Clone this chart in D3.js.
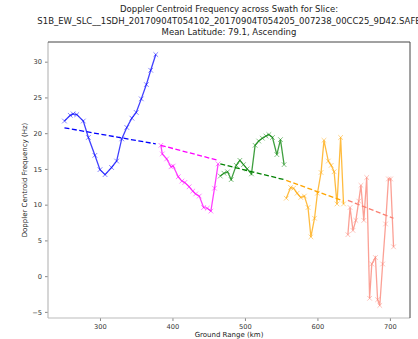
<!DOCTYPE html>
<html>
<head>
<meta charset="utf-8">
<script src="https://cdn.jsdelivr.net/npm/d3@7"></script>
<style>
  body { margin: 0; background: #fff; }
  text { font-family: "DejaVu Sans", sans-serif; fill: #222; }
</style>
</head>
<body>
<div id="chart"></div>
<script>
// ground range (km) and doppler centroid (Hz) for each swath slice
const blueX = [251, 259, 263, 268, 277, 284, 293, 300, 307, 316, 323, 330, 337, 344, 350, 357, 364, 370, 377];
const blueY = [21.7, 22.5, 22.7, 22.6, 21.7, 19.4, 16.9, 14.9, 14.2, 15.2, 16.1, 19.2, 20.8, 22.1, 22.9, 24.8, 26.8, 28.8, 31.0];

const magentaX = [384, 386, 392, 398, 401, 408, 413, 417, 423, 428, 432, 437, 443, 448, 453, 458, 463];
const magentaY = [18.3, 17.1, 16.4, 15.3, 15.4, 13.9, 13.3, 13.1, 12.5, 11.9, 11.5, 11.2, 9.6, 9.5, 9.1, 12.3, 15.7];

const greenX = [466, 471, 476, 481, 488, 493, 498, 503, 509, 514, 519, 524, 529, 533, 538, 544, 549, 554];
const greenY = [14.0, 14.4, 14.6, 13.5, 15.5, 16.2, 15.6, 15.0, 14.3, 18.3, 18.9, 19.3, 19.6, 19.8, 19.4, 17.0, 19.1, 15.6];

const orangeX = [557, 563, 567, 572, 577, 582, 587, 591, 596, 600, 605, 609, 615, 619, 623, 627, 632, 636];
const orangeY = [10.9, 12.4, 12.3, 11.6, 11.0, 11.2, 9.6, 5.5, 8.1, 11.6, 14.5, 19.0, 16.1, 15.5, 14.6, 10.1, 19.4, 10.1];

const salmonX = [642, 645, 649, 653, 657, 660, 664, 668, 672, 675, 680, 683, 686, 690, 694, 698, 701, 705];
const salmonY = [5.8, 9.6, 6.4, 7.8, 10.5, 12.7, 7.8, 13.8, -3.1, 1.7, 2.6, -3.3, -4.1, 1.7, 7.3, 13.6, 13.6, 4.1];

// fitted trend at the start / end of each slice
const trendStart = [20.75, 18.3, 15.7, 13.4, 10.6];
const trendEnd = [18.5, 16.2, 13.5, 10.5, 8.1];

const colors = ["blue", "magenta", "green", "orange", "salmon"];
const xTicks = [300, 400, 500, 600, 700];
const yTicks = [-5, 0, 5, 10, 15, 20, 25, 30];

const titleLines = [
  "Doppler Centroid Frequency across Swath for Slice:",
  "S1B_EW_SLC__1SDH_20170904T054102_20170904T054205_007238_00CC25_9D42.SAFE",
  "Mean Latitude: 79.1, Ascending"
];

const slices = [
  [blueX, blueY], [magentaX, magentaY], [greenX, greenY], [orangeX, orangeY], [salmonX, salmonY]
].map(function (s, i) {
  return {
    color: colors[i],
    pts: s[0].map(function (x, j) { return { x: x, y: s[1][j] }; }),
    trend: [{ x: s[0][0], y: trendStart[i] }, { x: s[0][s[0].length - 1], y: trendEnd[i] }]
  };
});

const W = 418, H = 339;
const margin = { top: 42, right: 8, bottom: 21, left: 48 };
const width = W - margin.left - margin.right;
const height = H - margin.top - margin.bottom;

const svg = d3.select("#chart").append("svg")
  .attr("width", W).attr("height", H);

// matplotlib-like 5% padding
const allX = d3.merge(slices.map(d => d.pts.map(p => p.x)));
const allY = d3.merge(slices.map(d => d.pts.map(p => p.y)));
const xe = d3.extent(allX), ye = d3.extent(allY);
const xPad = (xe[1] - xe[0]) * 0.05, yPad = (ye[1] - ye[0]) * 0.05;

const x = d3.scaleLinear().domain([xe[0] - xPad, xe[1] + xPad]).range([0, width]);
const y = d3.scaleLinear().domain([ye[0] - yPad, ye[1] + yPad]).range([height, 0]);

const g = svg.append("g")
  .attr("transform", "translate(" + margin.left + "," + margin.top + ")");

// axes
const xAxis = g.append("g")
  .attr("transform", "translate(0," + height + ")")
  .call(d3.axisBottom(x).tickValues(xTicks).tickSize(3).tickPadding(3));
const yAxis = g.append("g")
  .call(d3.axisLeft(y).tickValues(yTicks).tickSize(3).tickPadding(3));
[xAxis, yAxis].forEach(function (a) {
  a.select(".domain").remove();
  a.selectAll(".tick line").attr("stroke", "#888");
  a.selectAll(".tick text").style("font-size", "6.7px").style("fill", "#333")
    .style("font-family", "'DejaVu Sans', sans-serif");
});
yAxis.selectAll(".tick text").text(d => d < 0 ? "\u2212" + Math.abs(d) : d);

// spines
g.append("line").attr("x1", 0).attr("x2", 0).attr("y1", 0).attr("y2", height)
  .attr("stroke", "#bbb").attr("stroke-width", 1.2);
g.append("line").attr("x1", 0).attr("x2", width).attr("y1", height).attr("y2", height)
  .attr("stroke", "#bbb").attr("stroke-width", 1.2);
g.append("line").attr("x1", 0).attr("x2", width).attr("y1", 0).attr("y2", 0)
  .attr("stroke", "#444").attr("stroke-width", 1);
g.append("line").attr("x1", width).attr("x2", width).attr("y1", 0).attr("y2", height)
  .attr("stroke", "#444").attr("stroke-width", 1);

const line = d3.line().x(d => x(d.x)).y(d => y(d.y));

// data lines + markers
slices.forEach(function (s) {
  g.append("path").datum(s.pts)
    .attr("d", line)
    .attr("fill", "none")
    .attr("stroke", s.color)
    .attr("stroke-opacity", 0.75)
    .attr("stroke-width", 1.3);

  g.append("g").selectAll("path")
    .data(s.pts)
    .join("path")
    .attr("d", d3.symbol(d3.symbolX, 16))
    .attr("transform", d => "translate(" + x(d.x) + "," + y(d.y) + ")")
    .attr("fill", "none")
    .attr("stroke", s.color)
    .attr("stroke-opacity", 0.6)
    .attr("stroke-width", 0.8);
});

// trend lines
slices.forEach(function (s) {
  g.append("path").datum(s.trend)
    .attr("d", line)
    .attr("fill", "none")
    .attr("stroke", s.color)
    .attr("stroke-width", 1.3)
    .attr("stroke-dasharray", "5,2.5");
});

// title
svg.append("g").selectAll("text")
  .data(titleLines)
  .join("text")
  .attr("x", margin.left + width / 2)
  .attr("y", (d, i) => 12 + i * 11.5)
  .attr("text-anchor", "middle")
  .style("font-size", "8.5px")
  .text(d => d);

// axis labels
svg.append("text")
  .attr("x", margin.left + width / 2)
  .attr("y", 337)
  .attr("text-anchor", "middle")
  .style("font-size", "7px")
  .text("Ground Range (km)");

svg.append("text")
  .attr("transform", "translate(27," + (margin.top + height / 2) + ") rotate(-90)")
  .attr("text-anchor", "middle")
  .style("font-size", "7px")
  .text("Doppler Centroid Frequency (Hz)");
</script>
</body>
</html>
